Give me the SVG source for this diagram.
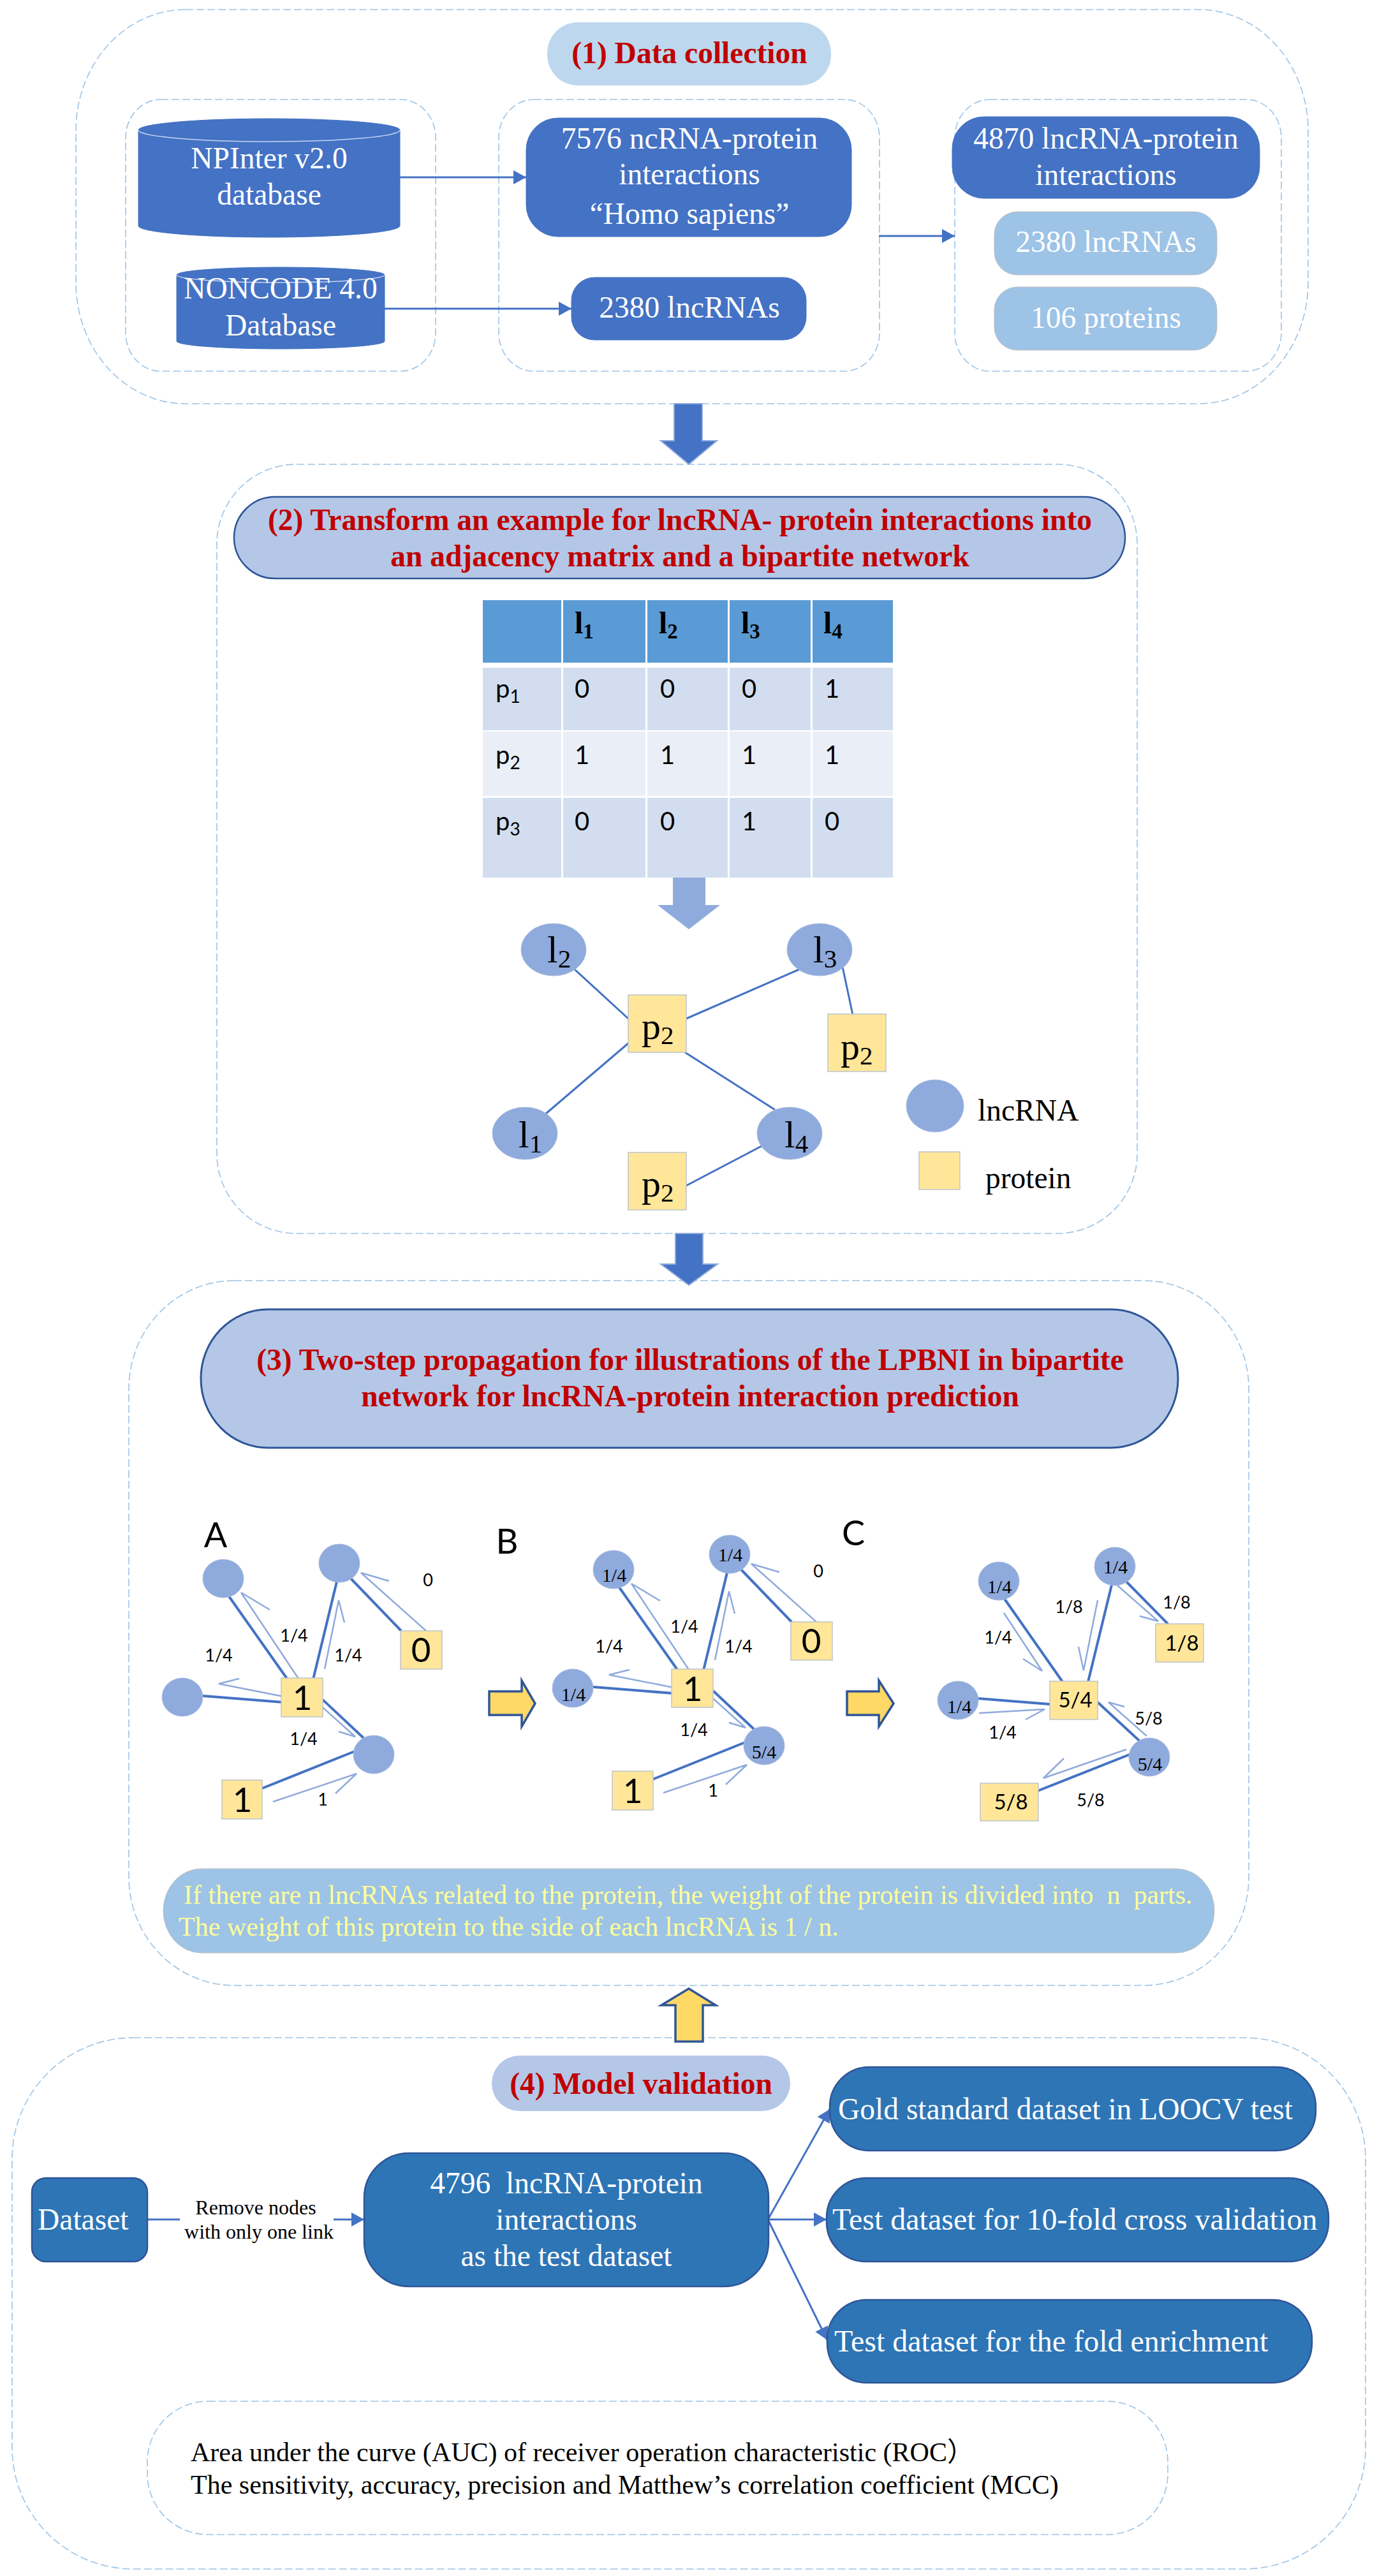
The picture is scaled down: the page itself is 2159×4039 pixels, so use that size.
<svg xmlns="http://www.w3.org/2000/svg" width="2159" height="4039" viewBox="0 0 2159 4039">
<style>
text{font-family:"Liberation Serif","Noto Sans CJK SC",serif;font-size:47.5px;fill:#000;white-space:pre}
.m{text-anchor:middle}
.w{fill:#fff}
.h{fill:#C00000;font-weight:bold}
.y{fill:#FFFF99;font-size:42px}
.abc{font-family:Lato,"Liberation Sans",sans-serif;font-size:54px;text-anchor:middle}
.lab{font-family:Lato,"Liberation Sans",sans-serif;font-size:27px;text-anchor:middle}
.big{font-family:Lato,"Liberation Sans",sans-serif;font-size:53px;text-anchor:middle}
.sq{font-family:Lato,"Liberation Sans",sans-serif;font-size:33px;text-anchor:middle}
.in{font-size:30px;text-anchor:middle}
.td{font-family:Lato,"Liberation Sans",sans-serif;font-size:40px}
.th{font-weight:bold}
.net{font-size:60px}
.rm{font-size:32px;text-anchor:middle}
.mt{font-size:42px}
.frame{fill:none;stroke:#9DC3E6;stroke-width:1.6;stroke-dasharray:12 5}
.blue{fill:#4472C4;stroke:#4472C4;stroke-width:1}
.light{fill:#9DC3E6;stroke:#BFBFBF;stroke-width:1}
.deep{fill:#2E75B6;stroke:#2F5597;stroke-width:2.5}
.node{fill:#8FAADC;stroke:#A9BCE0;stroke-width:1}
.prot{fill:#FFE699;stroke:#BFC4CC;stroke-width:1.5}
.yarrow{fill:#FFD966;stroke:#2F5597;stroke-width:3.5}
.link{stroke:#4472C4;stroke-width:4;fill:none}
.thin{stroke:#4472C4;stroke-width:3;fill:none}
.half{stroke:#8FAADC;stroke-width:2.5;fill:none}
</style>
<defs>
<marker id="tri" markerUnits="userSpaceOnUse" markerWidth="22" markerHeight="24" refX="20" refY="11" orient="auto"><path d="M0,0L20,11L0,22Z" fill="#4472C4"/></marker>
</defs>
<rect width="2159" height="4039" fill="#fff"/>

<g id="frames">
<rect class="frame" x="119" y="15" width="1932" height="618" rx="172" ry="190"/>
<rect class="frame" x="197" y="156" width="486" height="426" rx="55" ry="60"/>
<rect class="frame" x="782" y="156" width="597" height="426" rx="55" ry="60"/>
<rect class="frame" x="1497" y="156" width="512" height="426" rx="55" ry="60"/>
<rect class="frame" x="340" y="728" width="1443" height="1206" rx="125" ry="125"/>
<rect class="frame" x="202" y="2008" width="1756" height="1105" rx="165" ry="170"/>
<rect class="frame" x="19" y="3195" width="2122" height="833" rx="190" ry="190"/>
<rect class="frame" x="231" y="3765" width="1600" height="209" rx="95" ry="95"/>
</g>

<g id="block-arrows">
<path d="M1057,633H1101V691H1124L1080,728L1036,691H1057Z" fill="#4472C4" stroke="#8FAADC" stroke-width="2"/>
<path d="M1059,1934H1102V1982H1125L1080,2015L1036,1982H1059Z" fill="#4472C4" stroke="#8FAADC" stroke-width="2"/>
<path d="M1055,1365H1106V1419H1129L1080,1457L1031,1419H1055Z" fill="#8FAADC"/>
<path class="yarrow" d="M1059,3201V3144H1037L1080,3118L1122,3144H1102V3201Z"/>
<path class="yarrow" d="M767,2652H818V2635L839,2671L818,2707V2689H767Z"/>
<path class="yarrow" d="M1328,2652H1378V2635L1401,2671L1378,2707V2689H1328Z"/>
</g>

<g id="connectors">
<line class="thin" x1="627" y1="278" x2="825" y2="278" marker-end="url(#tri)"/>
<line class="thin" x1="603" y1="484" x2="896" y2="484" marker-end="url(#tri)"/>
<line class="thin" x1="1378" y1="370" x2="1497" y2="370" marker-end="url(#tri)"/>
<line class="thin" x1="901" y1="1520" x2="986" y2="1598"/>
<line class="thin" x1="1074" y1="1598" x2="1253" y2="1520"/>
<line class="thin" x1="986" y1="1635" x2="856" y2="1746"/>
<line class="thin" x1="1074" y1="1650" x2="1215" y2="1740"/>
<line class="thin" x1="1321" y1="1516" x2="1337" y2="1591"/>
<line class="thin" x1="1074" y1="1860" x2="1194" y2="1797"/>

<line class="link" x1="359" y1="2503" x2="450" y2="2632"/>
<line class="link" x1="528" y1="2480" x2="491" y2="2633"/>
<line class="link" x1="550" y1="2475" x2="629" y2="2557"/>
<line class="link" x1="318" y1="2659" x2="443" y2="2669"/>
<line class="link" x1="506" y1="2665" x2="571" y2="2726"/>
<line class="link" x1="411" y1="2804" x2="556" y2="2746"/>
<polyline class="half" points="468,2632 378,2497 423,2524"/>
<polyline class="half" points="509,2617 531,2509 540,2544"/>
<polyline class="half" points="668,2557 566,2466 610,2479"/>
<polyline class="half" points="444,2660 343,2640 375,2632"/>
<polyline class="half" points="497,2669 557,2723 531,2715"/>
<polyline class="half" points="428,2825 559,2781 526,2812"/>

<line class="link" x1="971" y1="2489" x2="1062" y2="2618"/>
<line class="link" x1="1140" y1="2466" x2="1103" y2="2619"/>
<line class="link" x1="1162" y1="2461" x2="1241" y2="2543"/>
<line class="link" x1="930" y1="2645" x2="1055" y2="2655"/>
<line class="link" x1="1118" y1="2651" x2="1183" y2="2712"/>
<line class="link" x1="1023" y1="2790" x2="1168" y2="2732"/>
<polyline class="half" points="1080,2618 990,2483 1035,2510"/>
<polyline class="half" points="1121,2603 1143,2495 1152,2530"/>
<polyline class="half" points="1280,2543 1178,2452 1222,2465"/>
<polyline class="half" points="1056,2646 955,2626 987,2618"/>
<polyline class="half" points="1109,2655 1169,2709 1143,2701"/>
<polyline class="half" points="1040,2811 1171,2767 1138,2798"/>

<line class="link" x1="1575" y1="2507" x2="1666" y2="2637"/>
<line class="link" x1="1743" y1="2485" x2="1706" y2="2637"/>
<line class="link" x1="1766" y1="2480" x2="1831" y2="2546"/>
<line class="link" x1="1533" y1="2663" x2="1658" y2="2673"/>
<line class="link" x1="1721" y1="2669" x2="1786" y2="2729"/>
<line class="link" x1="1627" y1="2808" x2="1771" y2="2751"/>
<polyline class="half" points="1574,2529 1634,2620 1604,2601"/>
<polyline class="half" points="1721,2509 1699,2619 1691,2582"/>
<polyline class="half" points="1751,2485 1816,2542 1787,2534"/>
<polyline class="half" points="1535,2686 1638,2680 1608,2696"/>
<polyline class="half" points="1798,2722 1738,2669 1763,2676"/>
<polyline class="half" points="1766,2743 1636,2788 1668,2757"/>

<line class="thin" x1="231" y1="3480" x2="282" y2="3480"/>
<line class="thin" x1="523" y1="3480" x2="571" y2="3480" marker-end="url(#tri)"/>
<line class="thin" x1="1204" y1="3480" x2="1301" y2="3307" marker-end="url(#tri)"/>
<line class="thin" x1="1204" y1="3480" x2="1296" y2="3480" marker-end="url(#tri)"/>
<line class="thin" x1="1204" y1="3480" x2="1297" y2="3669" marker-end="url(#tri)"/>
</g>

<g id="title-1"><rect x="858" y="35" width="445" height="99" rx="48" fill="#BDD7EE"/><text class="h m" x="1081" y="99">(1) Data collection</text></g>
<g id="npinter"><path class="blue" d="M217,204A205,18 0 0 1 627,204V354A205,18 0 0 1 217,354Z"/><path d="M217,204A205,18 0 0 0 627,204" fill="none" stroke="#C9D6EE" stroke-width="1.5"/><text class="w m" x="422" y="264">NPInter v2.0</text><text class="w m" x="422" y="321">database</text></g>
<g id="noncode"><path class="blue" d="M277,431A163,12 0 0 1 603,431V535A163,12 0 0 1 277,535Z"/><path d="M277,431A163,12 0 0 0 603,431" fill="none" stroke="#C9D6EE" stroke-width="1.5"/><text class="w m" x="440" y="468">NONCODE 4.0</text><text class="w m" x="440" y="526">Database</text></g>
<g id="ncrna"><rect class="blue" x="825" y="185" width="510" height="186" rx="50"/><text class="w m" x="1081" y="233">7576 ncRNA-protein</text><text class="w m" x="1081" y="289">interactions</text><text class="w m" x="1081" y="351">“Homo sapiens”</text></g>
<g id="lnc-2380"><rect class="blue" x="896" y="435" width="368" height="98" rx="36"/><text class="w m" x="1081" y="498">2380 lncRNAs</text></g>
<g id="lnc-4870"><rect class="blue" x="1493" y="183" width="482" height="128" rx="50"/><text class="w m" x="1734" y="233">4870 lncRNA-protein</text><text class="w m" x="1734" y="290">interactions</text></g>
<g id="lnc-light"><rect class="light" x="1559" y="332" width="349" height="99" rx="36"/><text class="w m" x="1734" y="395">2380 lncRNAs</text></g>
<g id="proteins"><rect class="light" x="1559" y="450" width="349" height="99" rx="36"/><text class="w m" x="1734" y="514">106 proteins</text></g>

<g id="title-2"><rect x="367" y="779" width="1397" height="128" rx="64" fill="#B4C7E7" stroke="#2F5597" stroke-width="2.5"/><text class="h m" x="1066" y="831">(2) Transform an example for lncRNA- protein interactions into</text><text class="h m" x="1066" y="888">an adjacency matrix and a bipartite network</text></g>

<g id="matrix">
<g fill="#5B9BD5"><rect x="757" y="941" width="123" height="98"/><rect x="883" y="941" width="129" height="98"/><rect x="1015" y="941" width="126" height="98"/><rect x="1144" y="941" width="127" height="98"/><rect x="1274" y="941" width="126" height="98"/></g>
<g fill="#D2DEEF"><rect x="757" y="1047" width="123" height="98"/><rect x="883" y="1047" width="129" height="98"/><rect x="1015" y="1047" width="126" height="98"/><rect x="1144" y="1047" width="127" height="98"/><rect x="1274" y="1047" width="126" height="98"/></g>
<g fill="#EAEFF7"><rect x="757" y="1147" width="123" height="101"/><rect x="883" y="1147" width="129" height="101"/><rect x="1015" y="1147" width="126" height="101"/><rect x="1144" y="1147" width="127" height="101"/><rect x="1274" y="1147" width="126" height="101"/></g>
<g fill="#D2DEEF"><rect x="757" y="1251" width="123" height="125"/><rect x="883" y="1251" width="129" height="125"/><rect x="1015" y="1251" width="126" height="125"/><rect x="1144" y="1251" width="127" height="125"/><rect x="1274" y="1251" width="126" height="125"/></g>
<text class="th" x="901" y="993">l<tspan font-size="33" dy="8">1</tspan></text>
<text class="th" x="1033" y="993">l<tspan font-size="33" dy="8">2</tspan></text>
<text class="th" x="1162" y="993">l<tspan font-size="33" dy="8">3</tspan></text>
<text class="th" x="1291" y="993">l<tspan font-size="33" dy="8">4</tspan></text>
<text class="td" x="777" y="1094">p<tspan font-size="28" dy="8">1</tspan></text>
<text class="td" x="901" y="1094">0</text><text class="td" x="1035" y="1094">0</text><text class="td" x="1163" y="1094">0</text><text class="td" x="1293" y="1094">1</text>
<text class="td" x="777" y="1198">p<tspan font-size="28" dy="8">2</tspan></text>
<text class="td" x="901" y="1198">1</text><text class="td" x="1035" y="1198">1</text><text class="td" x="1163" y="1198">1</text><text class="td" x="1293" y="1198">1</text>
<text class="td" x="777" y="1302">p<tspan font-size="28" dy="8">3</tspan></text>
<text class="td" x="901" y="1302">0</text><text class="td" x="1035" y="1302">0</text><text class="td" x="1163" y="1302">1</text><text class="td" x="1293" y="1302">0</text>
</g>

<g id="net-l2"><ellipse class="node" cx="868" cy="1489" rx="51" ry="41"/><text class="net" x="858" y="1509">l<tspan font-size="41" dy="8">2</tspan></text></g>
<g id="net-l3"><ellipse class="node" cx="1285" cy="1489" rx="51" ry="41"/><text class="net" x="1275" y="1509">l<tspan font-size="41" dy="8">3</tspan></text></g>
<g id="net-l1"><ellipse class="node" cx="823" cy="1777" rx="51" ry="41"/><text class="net" x="813" y="1799">l<tspan font-size="41" dy="8">1</tspan></text></g>
<g id="net-l4"><ellipse class="node" cx="1238" cy="1777" rx="51" ry="41"/><text class="net" x="1230" y="1799">l<tspan font-size="41" dy="8">4</tspan></text></g>
<g id="net-p-center"><rect class="prot" x="985" y="1560" width="91" height="90"/><text class="net" x="1006" y="1629">p<tspan font-size="41" dy="8">2</tspan></text></g>
<g id="net-p-right"><rect class="prot" x="1298" y="1590" width="91" height="90"/><text class="net" x="1318" y="1661">p<tspan font-size="41" dy="8">2</tspan></text></g>
<g id="net-p-bottom"><rect class="prot" x="985" y="1807" width="91" height="90"/><text class="net" x="1006" y="1876">p<tspan font-size="41" dy="8">2</tspan></text></g>
<g id="legend"><ellipse class="node" cx="1466" cy="1734" rx="45" ry="41"/><text x="1533" y="1757">lncRNA</text><rect class="prot" x="1441" y="1806" width="64" height="59"/><text x="1545" y="1863">protein</text></g>

<g id="title-3"><rect x="315" y="2053" width="1532" height="217" rx="105" ry="108" fill="#B4C7E7" stroke="#2F5597" stroke-width="3"/><text class="h m" x="1082" y="2148">(3) Two-step propagation for illustrations of the LPBNI in bipartite</text><text class="h m" x="1082" y="2205">network for lncRNA-protein interaction prediction</text></g>

<g id="panel-a">
<text class="abc" x="338" y="2426">A</text>
<ellipse class="node" cx="350" cy="2475" rx="32" ry="30"/><ellipse class="node" cx="532" cy="2451" rx="32" ry="30"/><ellipse class="node" cx="286" cy="2661" rx="32" ry="30"/><ellipse class="node" cx="586" cy="2751" rx="32" ry="30"/>
<rect class="prot" x="441" y="2631" width="65" height="61"/><text class="big" x="474" y="2681">1</text>
<rect class="prot" x="628" y="2557" width="65" height="60"/><text class="big" x="660" y="2606">0</text>
<rect class="prot" x="348" y="2791" width="63" height="61"/><text class="big" x="380" y="2841">1</text>
<text class="lab" x="461" y="2574">1/4</text><text class="lab" x="343" y="2605">1/4</text><text class="lab" x="546" y="2605">1/4</text><text class="lab" x="476" y="2736">1/4</text><text class="lab" x="671" y="2487">0</text><text class="lab" x="506" y="2831">1</text>
</g>
<g id="panel-b">
<text class="abc" x="795" y="2436">B</text>
<ellipse class="node" cx="962" cy="2461" rx="32" ry="30"/><text class="in" x="963" y="2480">1/4</text>
<ellipse class="node" cx="1144" cy="2437" rx="32" ry="30"/><text class="in" x="1145" y="2448">1/4</text>
<ellipse class="node" cx="898" cy="2647" rx="32" ry="30"/><text class="in" x="899" y="2667">1/4</text>
<ellipse class="node" cx="1198" cy="2737" rx="32" ry="30"/><text class="in" x="1198" y="2757">5/4</text>
<rect class="prot" x="1053" y="2617" width="65" height="60"/><text class="big" x="1086" y="2667">1</text>
<rect class="prot" x="1240" y="2543" width="65" height="60"/><text class="big" x="1272" y="2592">0</text>
<rect class="prot" x="960" y="2777" width="64" height="61"/><text class="big" x="992" y="2827">1</text>
<text class="lab" x="1073" y="2560">1/4</text><text class="lab" x="955" y="2591">1/4</text><text class="lab" x="1158" y="2591">1/4</text><text class="lab" x="1088" y="2722">1/4</text><text class="lab" x="1283" y="2473">0</text><text class="lab" x="1118" y="2817">1</text>
</g>
<g id="panel-c">
<text class="abc" x="1338" y="2423">C</text>
<ellipse class="node" cx="1566" cy="2479" rx="32" ry="30"/><text class="in" x="1567" y="2498">1/4</text>
<ellipse class="node" cx="1748" cy="2456" rx="32" ry="30"/><text class="in" x="1749" y="2467">1/4</text>
<ellipse class="node" cx="1502" cy="2666" rx="32" ry="30"/><text class="in" x="1504" y="2686">1/4</text>
<ellipse class="node" cx="1802" cy="2755" rx="32" ry="30"/><text class="in" x="1803" y="2776">5/4</text>
<rect class="prot" x="1646" y="2636" width="75" height="60"/><text class="sq" x="1686" y="2677">5/4</text>
<rect class="prot" x="1812" y="2546" width="75" height="60"/><text class="sq" x="1853" y="2588">1/8</text>
<rect class="prot" x="1537" y="2796" width="91" height="59"/><text class="sq" x="1585" y="2837">5/8</text>
<text class="lab" x="1676" y="2529">1/8</text><text class="lab" x="1845" y="2522">1/8</text><text class="lab" x="1565" y="2577">1/4</text><text class="lab" x="1572" y="2726">1/4</text><text class="lab" x="1801" y="2704">5/8</text><text class="lab" x="1710" y="2832">5/8</text>
</g>
<g id="note"><rect class="light" x="256" y="2930" width="1648" height="132" rx="60" ry="66"/><text class="y" x="288" y="2985">If there are n lncRNAs related to the protein, the weight of the protein is divided into  n  parts.</text><text class="y" x="280" y="3035">The weight of this protein to the side of each lncRNA is 1 / n.</text></g>

<g id="title-4"><rect x="771" y="3223" width="468" height="87" rx="44" fill="#B4C7E7"/><text class="h m" x="1005" y="3283">(4) Model validation</text></g>
<g id="dataset"><rect class="deep" x="50" y="3415" width="181" height="131" rx="22"/><text class="w" x="59" y="3496">Dataset</text></g>
<g id="remove-label"><text class="rm" x="401" y="3472">Remove nodes</text><text class="rm" x="406" y="3510">with only one link</text></g>
<g id="test-set"><rect class="deep" x="571" y="3376" width="634" height="209" rx="70"/><text class="w m" x="888" y="3439">4796  lncRNA-protein</text><text class="w m" x="888" y="3496">interactions</text><text class="w m" x="888" y="3553">as the test dataset</text></g>
<g id="gold"><rect class="deep" x="1301" y="3241" width="762" height="131" rx="62"/><text class="w" x="1314" y="3323">Gold standard dataset in LOOCV test</text></g>
<g id="tenfold"><rect class="deep" x="1296" y="3415" width="787" height="131" rx="62"/><text class="w" x="1305" y="3496" style="font-size:48px">Test dataset for 10-fold cross validation</text></g>
<g id="enrichment"><rect class="deep" x="1297" y="3606" width="760" height="130" rx="62"/><text class="w" x="1308" y="3687" style="font-size:48px">Test dataset for the fold enrichment</text></g>
<g id="metrics"><text class="mt" x="299" y="3859">Area under the curve (AUC) of receiver operation characteristic (ROC）</text><text class="mt" x="299" y="3910">The sensitivity, accuracy, precision and Matthew’s correlation coefficient (MCC)</text></g>
</svg>
